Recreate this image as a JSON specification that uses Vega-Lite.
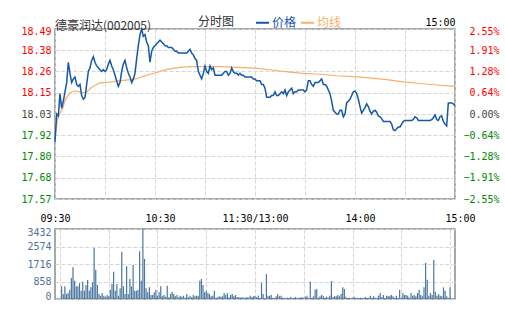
{
  "$schema": "https://vega.github.io/schema/vega-lite/v6.json",
  "background": "white",
  "padding": {"left": 20, "top": 15, "right": 0, "bottom": 0},
  "config": {
    "view": {"stroke": "#8c8c8c", "strokeWidth": 1.5},
    "axis": {"ticks": false, "domain": false, "gridColor": "#d6d6d6", "gridDash": [4, 2], "gridWidth": 1, "labelFont": "DejaVu Sans Mono", "labelFontSize": 10, "title": null, "labelOverlap": false, "labelFlush": false}
  },
  "datasets": {
    "price": [
      {"m":0,"p":17.88},{"m":1,"p":18.03},{"m":2,"p":18.02},{"m":3,"p":18.14},{"m":4,"p":18.06},{"m":5,"p":18.10},{"m":6,"p":18.15},{"m":7,"p":18.20},{"m":8,"p":18.31},{"m":9,"p":18.25},
      {"m":10,"p":18.20},{"m":11,"p":18.22},{"m":12,"p":18.23},{"m":13,"p":18.19},{"m":14,"p":18.18},{"m":15,"p":18.19},{"m":16,"p":18.13},{"m":17,"p":18.11},{"m":18,"p":18.12},{"m":19,"p":18.19},
      {"m":20,"p":18.26},{"m":21,"p":18.28},{"m":22,"p":18.32},{"m":23,"p":18.34},{"m":24,"p":18.31},{"m":25,"p":18.29},{"m":26,"p":18.28},{"m":27,"p":18.27},{"m":28,"p":18.26},{"m":29,"p":18.27},
      {"m":30,"p":18.26},{"m":31,"p":18.27},{"m":32,"p":18.30},{"m":33,"p":18.32},{"m":34,"p":18.29},{"m":35,"p":18.27},{"m":36,"p":18.24},{"m":37,"p":18.21},{"m":38,"p":18.18},{"m":39,"p":18.20},
      {"m":40,"p":18.26},{"m":41,"p":18.30},{"m":42,"p":18.32},{"m":43,"p":18.28},{"m":44,"p":18.25},{"m":45,"p":18.23},{"m":46,"p":18.20},{"m":47,"p":18.22},{"m":48,"p":18.25},{"m":49,"p":18.33},
      {"m":50,"p":18.40},{"m":51,"p":18.46},{"m":52,"p":18.49},{"m":53,"p":18.45},{"m":54,"p":18.46},{"m":55,"p":18.42},{"m":56,"p":18.40},{"m":57,"p":18.31},{"m":58,"p":18.37},{"m":59,"p":18.39},
      {"m":60,"p":18.40},{"m":61,"p":18.41},{"m":62,"p":18.42},{"m":63,"p":18.43},{"m":64,"p":18.42},{"m":65,"p":18.41},{"m":66,"p":18.40},{"m":67,"p":18.40},{"m":68,"p":18.39},{"m":69,"p":18.39},
      {"m":70,"p":18.39},{"m":71,"p":18.38},{"m":72,"p":18.37},{"m":73,"p":18.37},{"m":74,"p":18.36},{"m":75,"p":18.36},{"m":76,"p":18.36},{"m":77,"p":18.36},{"m":78,"p":18.36},{"m":79,"p":18.36},
      {"m":80,"p":18.37},{"m":81,"p":18.38},{"m":82,"p":18.36},{"m":83,"p":18.35},{"m":84,"p":18.33},{"m":85,"p":18.32},{"m":86,"p":18.26},{"m":87,"p":18.24},{"m":88,"p":18.22},{"m":89,"p":18.25},
      {"m":90,"p":18.29},{"m":91,"p":18.26},{"m":92,"p":18.25},{"m":93,"p":18.29},{"m":94,"p":18.27},{"m":95,"p":18.28},{"m":96,"p":18.24},{"m":97,"p":18.24},{"m":98,"p":18.24},{"m":99,"p":18.24},
      {"m":100,"p":18.24},{"m":101,"p":18.25},{"m":102,"p":18.26},{"m":103,"p":18.26},{"m":104,"p":18.24},{"m":105,"p":18.25},{"m":106,"p":18.28},{"m":107,"p":18.26},{"m":108,"p":18.25},{"m":109,"p":18.25},
      {"m":110,"p":18.24},{"m":111,"p":18.25},{"m":112,"p":18.24},{"m":113,"p":18.24},{"m":114,"p":18.23},{"m":115,"p":18.23},{"m":116,"p":18.23},{"m":117,"p":18.23},{"m":118,"p":18.23},{"m":119,"p":18.22},
      {"m":120,"p":18.22},{"m":121,"p":18.21},{"m":122,"p":18.21},{"m":123,"p":18.21},{"m":124,"p":18.19},{"m":125,"p":18.19},{"m":126,"p":18.17},{"m":127,"p":18.12},{"m":128,"p":18.12},{"m":129,"p":18.12},
      {"m":130,"p":18.13},{"m":131,"p":18.13},{"m":132,"p":18.15},{"m":133,"p":18.13},{"m":134,"p":18.13},{"m":135,"p":18.14},{"m":136,"p":18.15},{"m":137,"p":18.14},{"m":138,"p":18.16},{"m":139,"p":18.13},
      {"m":140,"p":18.15},{"m":141,"p":18.16},{"m":142,"p":18.17},{"m":143,"p":18.14},{"m":144,"p":18.15},{"m":145,"p":18.15},{"m":146,"p":18.16},{"m":147,"p":18.16},{"m":148,"p":18.16},{"m":149,"p":18.16},
      {"m":150,"p":18.15},{"m":151,"p":18.16},{"m":152,"p":18.21},{"m":153,"p":18.21},{"m":154,"p":18.19},{"m":155,"p":18.18},{"m":156,"p":18.20},{"m":157,"p":18.20},{"m":158,"p":18.20},{"m":159,"p":18.21},
      {"m":160,"p":18.22},{"m":161,"p":18.19},{"m":162,"p":18.19},{"m":163,"p":18.18},{"m":164,"p":18.16},{"m":165,"p":18.14},{"m":166,"p":18.10},{"m":167,"p":18.05},{"m":168,"p":18.04},{"m":169,"p":18.03},
      {"m":170,"p":18.03},{"m":171,"p":18.05},{"m":172,"p":18.05},{"m":173,"p":18.015},{"m":174,"p":18.03},{"m":175,"p":18.09},{"m":176,"p":18.10},{"m":177,"p":18.11},{"m":178,"p":18.13},{"m":179,"p":18.15},
      {"m":180,"p":18.155},{"m":181,"p":18.14},{"m":182,"p":18.11},{"m":183,"p":18.07},{"m":184,"p":18.035},{"m":185,"p":18.05},{"m":186,"p":18.065},{"m":187,"p":18.085},{"m":188,"p":18.07},{"m":189,"p":18.045},
      {"m":190,"p":18.03},{"m":191,"p":18.045},{"m":192,"p":18.05},{"m":193,"p":18.04},{"m":194,"p":18.02},{"m":195,"p":18.015},{"m":196,"p":18.005},{"m":197,"p":17.99},{"m":198,"p":17.99},{"m":199,"p":17.99},
      {"m":200,"p":17.99},{"m":201,"p":17.99},{"m":202,"p":17.975},{"m":203,"p":17.945},{"m":204,"p":17.94},{"m":205,"p":17.95},{"m":206,"p":17.96},{"m":207,"p":17.96},{"m":208,"p":17.975},{"m":209,"p":17.99},
      {"m":210,"p":17.995},{"m":211,"p":17.995},{"m":212,"p":17.995},{"m":213,"p":17.995},{"m":214,"p":17.995},{"m":215,"p":18.00},{"m":216,"p":18.015},{"m":217,"p":18.01},{"m":218,"p":17.995},{"m":219,"p":17.995},
      {"m":220,"p":17.995},{"m":221,"p":17.995},{"m":222,"p":17.995},{"m":223,"p":17.995},{"m":224,"p":17.995},{"m":225,"p":17.995},{"m":226,"p":18.00},{"m":227,"p":18.01},{"m":228,"p":18.025},{"m":229,"p":18.00},
      {"m":230,"p":17.995},{"m":231,"p":18.015},{"m":232,"p":18.02},{"m":233,"p":17.99},{"m":234,"p":17.975},{"m":235,"p":17.965},{"m":236,"p":18.09},{"m":237,"p":18.09},{"m":238,"p":18.09},{"m":239,"p":18.085},
      {"m":240,"p":18.075}
    ],
    "avg": [
      {"m":0,"a":17.905},{"m":1,"a":17.97},{"m":2,"a":18.02},{"m":3,"a":18.035},{"m":4,"a":18.05},{"m":5,"a":18.07},{"m":6,"a":18.10},{"m":7,"a":18.12},{"m":9,"a":18.144},{"m":11,"a":18.153},
      {"m":13,"a":18.154},{"m":15,"a":18.149},{"m":17,"a":18.145},{"m":19,"a":18.149},{"m":21,"a":18.167},{"m":23,"a":18.18},{"m":25,"a":18.19},{"m":27,"a":18.198},{"m":29,"a":18.20},{"m":33,"a":18.203},
      {"m":37,"a":18.208},{"m":41,"a":18.212},{"m":45,"a":18.216},{"m":49,"a":18.221},{"m":53,"a":18.234},{"m":57,"a":18.245},{"m":60,"a":18.252},{"m":63,"a":18.261},{"m":67,"a":18.27},{"m":71,"a":18.277},
      {"m":75,"a":18.282},{"m":81,"a":18.286},{"m":90,"a":18.287},{"m":100,"a":18.286},{"m":110,"a":18.282},{"m":120,"a":18.278},{"m":130,"a":18.268},{"m":141,"a":18.257},{"m":149,"a":18.25},{"m":159,"a":18.245},
      {"m":169,"a":18.237},{"m":179,"a":18.232},{"m":187,"a":18.227},{"m":199,"a":18.216},{"m":209,"a":18.204},{"m":219,"a":18.195},{"m":229,"a":18.187},{"m":240,"a":18.18}
    ],
    "vol": [
      {"m":1,"v":621},{"m":2,"v":245},{"m":3,"v":621},{"m":4,"v":245},{"m":5,"v":294},{"m":6,"v":458},{"m":7,"v":1029},{"m":8,"v":1552},{"m":9,"v":899},{"m":10,"v":621},
      {"m":11,"v":621},{"m":12,"v":784},{"m":13,"v":408},{"m":14,"v":850},{"m":15,"v":408},{"m":16,"v":686},{"m":17,"v":931},{"m":18,"v":408},{"m":19,"v":572},{"m":20,"v":817},
      {"m":21,"v":2500},{"m":22,"v":1438},{"m":23,"v":686},{"m":24,"v":245},{"m":25,"v":163},{"m":26,"v":294},{"m":27,"v":163},{"m":28,"v":114},{"m":29,"v":196},{"m":30,"v":131},
      {"m":31,"v":458},{"m":32,"v":735},{"m":33,"v":1340},{"m":34,"v":408},{"m":35,"v":735},{"m":36,"v":163},{"m":37,"v":523},{"m":38,"v":2320},{"m":39,"v":621},{"m":40,"v":245},
      {"m":41,"v":1601},{"m":42,"v":245},{"m":43,"v":980},{"m":44,"v":621},{"m":45,"v":1667},{"m":46,"v":408},{"m":47,"v":408},{"m":48,"v":458},{"m":49,"v":2337},{"m":50,"v":899},
      {"m":51,"v":3432},{"m":52,"v":1961},{"m":53,"v":523},{"m":54,"v":327},{"m":55,"v":572},{"m":56,"v":196},{"m":57,"v":196},{"m":58,"v":327},{"m":59,"v":458},{"m":60,"v":163},
      {"m":61,"v":327},{"m":62,"v":621},{"m":63,"v":131},{"m":64,"v":196},{"m":65,"v":114},{"m":66,"v":654},{"m":67,"v":82},{"m":68,"v":245},{"m":69,"v":359},{"m":70,"v":245},
      {"m":71,"v":131},{"m":72,"v":196},{"m":73,"v":82},{"m":74,"v":163},{"m":75,"v":114},{"m":76,"v":163},{"m":77,"v":65},{"m":78,"v":245},{"m":79,"v":82},{"m":80,"v":163},
      {"m":81,"v":82},{"m":82,"v":196},{"m":83,"v":131},{"m":84,"v":163},{"m":85,"v":163},{"m":86,"v":899},{"m":87,"v":980},{"m":88,"v":686},{"m":89,"v":327},{"m":90,"v":408},
      {"m":91,"v":294},{"m":92,"v":245},{"m":93,"v":131},{"m":94,"v":163},{"m":95,"v":408},{"m":96,"v":65},{"m":97,"v":82},{"m":98,"v":131},{"m":99,"v":114},{"m":100,"v":131},
      {"m":101,"v":294},{"m":102,"v":196},{"m":103,"v":278},{"m":104,"v":82},{"m":105,"v":196},{"m":106,"v":245},{"m":107,"v":131},{"m":108,"v":196},{"m":109,"v":82},{"m":110,"v":98},
      {"m":111,"v":65},{"m":112,"v":98},{"m":113,"v":65},{"m":114,"v":65},{"m":115,"v":98},{"m":116,"v":65},{"m":117,"v":163},{"m":118,"v":98},{"m":119,"v":131},{"m":120,"v":163},
      {"m":121,"v":82},{"m":122,"v":163},{"m":123,"v":49},{"m":124,"v":784},{"m":125,"v":245},{"m":126,"v":33},{"m":127,"v":1225},{"m":128,"v":163},{"m":129,"v":163},{"m":130,"v":196},
      {"m":131,"v":65},{"m":132,"v":49},{"m":133,"v":131},{"m":134,"v":245},{"m":135,"v":131},{"m":136,"v":163},{"m":137,"v":65},{"m":138,"v":49},{"m":139,"v":49},{"m":140,"v":65},
      {"m":141,"v":49},{"m":142,"v":114},{"m":143,"v":49},{"m":144,"v":65},{"m":145,"v":98},{"m":146,"v":49},{"m":147,"v":65},{"m":148,"v":65},{"m":149,"v":98},{"m":150,"v":49},
      {"m":151,"v":114},{"m":152,"v":163},{"m":153,"v":49},{"m":154,"v":850},{"m":155,"v":65},{"m":156,"v":131},{"m":157,"v":458},{"m":158,"v":490},{"m":159,"v":65},{"m":160,"v":131},
      {"m":161,"v":196},{"m":162,"v":131},{"m":163,"v":65},{"m":164,"v":114},{"m":165,"v":65},{"m":166,"v":163},{"m":167,"v":882},{"m":168,"v":98},{"m":169,"v":131},{"m":170,"v":131},
      {"m":171,"v":196},{"m":172,"v":131},{"m":173,"v":245},{"m":174,"v":572},{"m":175,"v":490},{"m":176,"v":114},{"m":177,"v":49},{"m":178,"v":65},{"m":179,"v":49},{"m":180,"v":65},
      {"m":181,"v":114},{"m":182,"v":49},{"m":183,"v":65},{"m":184,"v":49},{"m":185,"v":65},{"m":186,"v":49},{"m":187,"v":65},{"m":188,"v":98},{"m":189,"v":49},{"m":190,"v":65},
      {"m":191,"v":163},{"m":192,"v":65},{"m":193,"v":131},{"m":194,"v":65},{"m":195,"v":49},{"m":196,"v":163},{"m":197,"v":294},{"m":198,"v":98},{"m":199,"v":196},{"m":200,"v":49},
      {"m":201,"v":163},{"m":202,"v":131},{"m":203,"v":163},{"m":204,"v":196},{"m":205,"v":131},{"m":206,"v":65},{"m":207,"v":163},{"m":208,"v":49},{"m":209,"v":458},{"m":210,"v":65},
      {"m":211,"v":294},{"m":212,"v":196},{"m":213,"v":196},{"m":214,"v":163},{"m":215,"v":65},{"m":216,"v":294},{"m":217,"v":163},{"m":218,"v":196},{"m":219,"v":131},{"m":220,"v":294},
      {"m":221,"v":458},{"m":222,"v":196},{"m":223,"v":131},{"m":224,"v":572},{"m":225,"v":1765},{"m":226,"v":948},{"m":227,"v":163},{"m":228,"v":294},{"m":229,"v":196},{"m":230,"v":1912},
      {"m":231,"v":359},{"m":232,"v":163},{"m":233,"v":245},{"m":234,"v":163},{"m":235,"v":131},{"m":236,"v":572},{"m":237,"v":408},{"m":238,"v":131},{"m":239,"v":49},{"m":240,"v":572}
    ]
  },
  "vconcat": [
    {
      "width": 400,
      "height": 170,
      "title": {"text": "德豪润达(002005)", "anchor": "start", "frame": "group", "font": "Noto Sans CJK SC", "fontSize": 12, "fontWeight": "normal", "color": "#333333", "offset": 2, "dy": 18},
      "layer": [
        {
          "data": {"name": "avg"},
          "mark": {"type": "line", "strokeWidth": 1.2},
          "encoding": {
            "x": {"field": "m", "type": "quantitative", "scale": {"domain": [0, 240], "nice": false},
                  "axis": {"orient": "top", "values": [240], "labelExpr": "'15:00'", "grid": false, "labelAlign": "right", "labelPadding": 2, "labelColor": "#000000"}},
            "y": {"field": "a", "type": "quantitative", "scale": {"domain": [17.57, 18.49], "nice": false, "zero": false},
                  "axis": {"orient": "right", "values": [17.57, 17.685, 17.8, 17.915, 18.03, 18.145, 18.26, 18.375, 18.49], "grid": false,
                           "labelExpr": "format((datum.value - 18.03) / 18.03 * 100, '.2f') + '%'", "labelAlign": "right", "labelPadding": 44,
                           "labelColor": {"condition": [{"test": "datum.value > 18.035", "value": "#ff0000"}, {"test": "datum.value < 18.025", "value": "#008800"}], "value": "#444444"},
                           "labelOffset": {"condition": {"test": "datum.value > 18.48", "value": 2}, "value": 0}}},
            "color": {"datum": "均线", "type": "nominal",
                      "scale": {"domain": ["价格", "均线"], "range": ["#1458a6", "#f5b06a"]},
                      "legend": {"orient": "none", "legendX": 143, "legendY": -14, "direction": "horizontal", "title": "分时图", "titleOrient": "left",
                                 "titleFont": "Noto Sans CJK SC", "titleFontSize": 12, "titleFontWeight": "normal", "titleColor": "#333333", "titlePadding": 20,
                                 "symbolType": "stroke", "symbolSize": 169, "symbolStrokeWidth": 2, "labelFont": "Noto Sans CJK SC", "labelFontSize": 12,
                                 "labelOffset": 2, "columnPadding": 0,
                                 "encode": {"labels": {"update": {"fill": {"signal": "datum.value === '价格' ? '#1458a6' : '#f5b06a'"}}}}}}
          }
        },
        {
          "data": {"name": "price"},
          "mark": {"type": "line", "strokeWidth": 1.5},
          "encoding": {
            "x": {"field": "m", "type": "quantitative", "scale": {"domain": [0, 240], "nice": false},
                  "axis": {"orient": "bottom", "values": [0, 30, 60, 90, 120, 150, 180, 210, 240], "grid": true, "labelPadding": 14, "labelColor": "#000000",
                           "labelExpr": "datum.value == 0 ? '09:30' : datum.value == 60 ? '10:30' : datum.value == 120 ? '11:30/13:00' : datum.value == 180 ? '14:00' : datum.value == 240 ? '15:00' : ''",
                           "labelOffset": {"condition": {"test": "datum.value == 60 || datum.value >= 180", "value": 5}, "value": 0}}},
            "y": {"field": "p", "type": "quantitative", "scale": {"domain": [17.57, 18.49], "nice": false, "zero": false},
                  "axis": {"orient": "left", "values": [17.57, 17.684, 17.8, 17.916, 18.03, 18.146, 18.26, 18.376, 18.49], "format": ".2f", "grid": true, "labelPadding": 4,
                           "labelColor": {"condition": [{"test": "datum.value > 18.035", "value": "#ff0000"}, {"test": "datum.value < 18.025", "value": "#008800"}], "value": "#444444"},
                           "labelOffset": {"condition": {"test": "datum.value > 18.48", "value": 2}, "value": 0}}},
            "color": {"datum": "价格", "type": "nominal"}
          }
        }
      ],
      "resolve": {"axis": {"x": "independent", "y": "independent"}}
    },
    {
      "width": 400,
      "height": 70,
      "data": {"name": "vol"},
      "mark": {"type": "bar", "width": 1.2, "color": "#4a77a3"},
      "encoding": {
        "x": {"field": "m", "type": "quantitative", "scale": {"domain": [0, 240], "nice": false},
              "axis": {"values": [0, 30, 60, 90, 120, 150, 180, 210, 240], "labels": false, "grid": true}},
        "y": {"field": "v", "type": "quantitative", "scale": {"domain": [0, 3432], "nice": false},
              "axis": {"values": [0, 858, 1716, 2574, 3432], "format": "d", "grid": true, "labelPadding": 4, "labelColor": "#51729b",
                       "labelOffset": {"condition": [{"test": "datum.value > 3400", "value": 3}, {"test": "datum.value < 1", "value": -3}], "value": 0}}}
      }
    }
  ],
  "spacing": 30,
  "bounds": "flush"
}
